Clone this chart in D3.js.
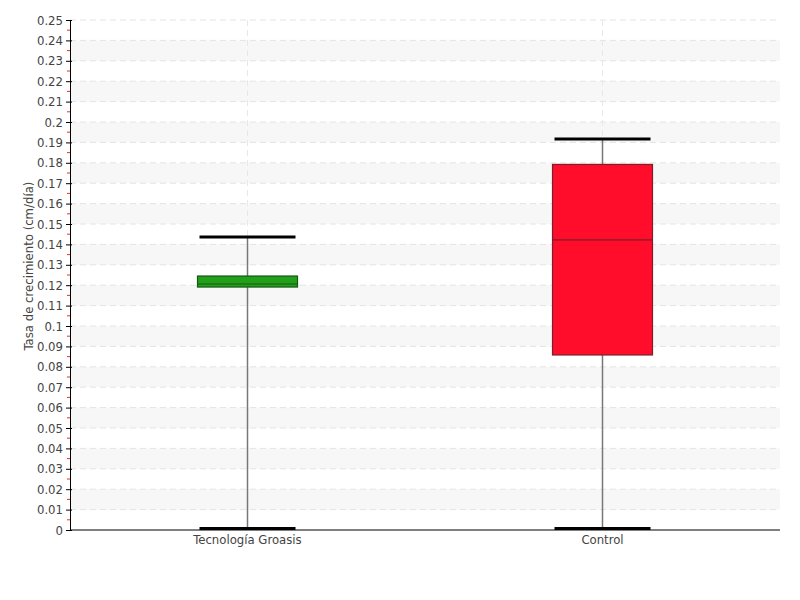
<!DOCTYPE html>
<html><head><meta charset="utf-8">
<script src="https://cdn.jsdelivr.net/npm/d3@7"></script>
<style>body{margin:0;background:#fff;} text{font-family:"DejaVu Sans Condensed","DejaVu Sans",sans-serif;font-stretch:condensed;}</style>
</head><body><svg id="c" width="800" height="600"></svg>
<script>
const categories = ["Tecnología Groasis", "Control"];
const whiskerLow = [0, 0];
const q1 = [0.1191, 0.0858];
const median = [0.1206, 0.1422];
const q3 = [0.1245, 0.1792];
const whiskerHigh = [0.1436, 0.1917];
const colors = ["#22a01c", "#ff0d2a"];
const strokes = ["#145a10", "#7a1f2c"];
const yTicks = d3.range(0, 0.2501, 0.01).map(v => +v.toFixed(2));
const yLabel = "Tasa de crecimiento (cm/día)";

(function () {
const svg = d3.select("#c");
const mL = 70, mR = 780, mT = 20, mB = 530;
const x = d3.scaleBand().domain(categories).range([mL, mR]);
const y = d3.scaleLinear().domain([0, 0.25]).range([mB, mT]);
const FONT = "'DejaVu Sans Condensed','DejaVu Sans',sans-serif";

// bands
for (let i = 1; i < yTicks.length - 1; i += 2) {
  svg.append("rect").attr("x", mL).attr("width", mR - mL)
    .attr("y", y(yTicks[i + 1])).attr("height", y(yTicks[i]) - y(yTicks[i + 1]))
    .attr("fill", "#f7f7f7");
}
// horizontal grid
svg.append("g").selectAll("line").data(yTicks.slice(1)).join("line")
  .attr("x1", mL).attr("x2", mR).attr("y1", d => y(d)).attr("y2", d => y(d))
  .attr("stroke", "#e4e4e4").attr("stroke-dasharray", "6,4");
// vertical grid
svg.append("g").selectAll("line").data(categories).join("line")
  .attr("x1", d => x(d) + x.bandwidth() / 2).attr("x2", d => x(d) + x.bandwidth() / 2)
  .attr("y1", mT).attr("y2", mB)
  .attr("stroke", "#e8e8e8").attr("stroke-dasharray", "6,4");

// minor red ticks
const minor = d3.range(0.005, 0.25, 0.01);
svg.append("g").selectAll("line").data(minor).join("line")
  .attr("x1", mL - 3).attr("x2", mL).attr("y1", d => y(d)).attr("y2", d => y(d))
  .attr("stroke", "#e03030").attr("stroke-width", 1);

// y axis
const yAxis = svg.append("g").attr("transform", `translate(${mL},0)`)
  .call(d3.axisLeft(y).tickValues(yTicks).tickFormat(d => String(+d.toFixed(2))).tickSize(4).tickPadding(3));
yAxis.select(".domain").attr("stroke", "#000");
yAxis.selectAll(".tick line").attr("stroke", "#000").attr("x2", 2).attr("x1", -4);
yAxis.selectAll("text").attr("fill", "#444").attr("font-size", 13).attr("font-family", FONT);

// x axis
const xAxis = svg.append("g").attr("transform", `translate(0,${mB})`)
  .call(d3.axisBottom(x).tickSize(0).tickPadding(5));
xAxis.select(".domain").attr("stroke", "#000").attr("d", `M${mL},0H${mR}`);
xAxis.selectAll("text").attr("fill", "#444").attr("font-size", 13).attr("font-family", FONT);

// y label
svg.append("text").attr("transform", `translate(33,266) rotate(-90)`)
  .attr("text-anchor", "middle").attr("fill", "#444").attr("font-size", 13).attr("font-family", FONT)
  .text(yLabel);

// boxes
const boxW = 100, capW = 96;
categories.forEach((c, i) => {
  const cx = x(c) + x.bandwidth() / 2;
  const g = svg.append("g");
  g.append("line").attr("x1", cx).attr("x2", cx).attr("y1", y(whiskerHigh[i])).attr("y2", y(q3[i]))
    .attr("stroke", "#777").attr("stroke-width", 1.5);
  g.append("line").attr("x1", cx).attr("x2", cx).attr("y1", y(q1[i])).attr("y2", y(whiskerLow[i]))
    .attr("stroke", "#777").attr("stroke-width", 1.5);
  g.append("rect").attr("x", cx - boxW / 2).attr("width", boxW)
    .attr("y", y(q3[i])).attr("height", y(q1[i]) - y(q3[i]))
    .attr("fill", colors[i]).attr("stroke", strokes[i]).attr("stroke-width", 1.2);
  g.append("line").attr("x1", cx - boxW / 2).attr("x2", cx + boxW / 2)
    .attr("y1", y(median[i])).attr("y2", y(median[i]))
    .attr("stroke", strokes[i]).attr("stroke-width", 1.2);
  [whiskerHigh[i], whiskerLow[i]].forEach(v => {
    const off = v === 0 ? 1.5 : 0;
    g.append("line").attr("x1", cx - capW / 2).attr("x2", cx + capW / 2)
      .attr("y1", y(v) - off).attr("y2", y(v) - off)
      .attr("stroke", "#000").attr("stroke-width", 3);
  });
});
})();
</script></body></html>
